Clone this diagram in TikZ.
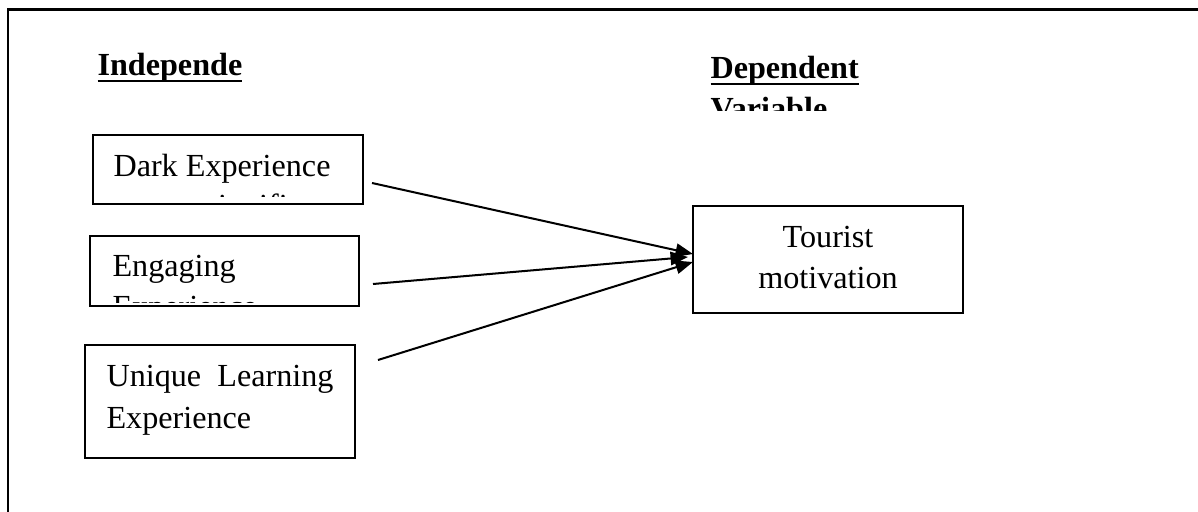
\documentclass[tikz,border=0pt]{standalone}
\usepackage{fontspec}
\setmainfont{Liberation Serif}
\usetikzlibrary{calc,arrows.meta}
\newdimen\pxu
\pxu=0.3731pt
\newcommand\headline[1]{\setbox0\hbox{\bfseries #1}\rlap{\rule[-2.6pt]{\wd0}{0.75pt}}\box0}
\tikzset{
  >={Triangle[length=6.5pt,width=5pt]},
  var box/.style={
    draw,
    line width=0.5pt,
    inner sep=0pt,
    outer sep=0pt,
    minimum width=270\pxu
  },
  var text/.style={
    anchor=base west,
    inner sep=0pt,
    font=\fontsize{12}{15}\selectfont
  },
  link/.style={->,line width=0.75pt}
}

\begin{document}
\begin{tikzpicture}[x=0.3731pt,y=-0.3731pt]
\useasboundingbox (0,0) rectangle (1198,512);
\clip (0,0) rectangle (1198,512);
\draw[line width=0.75pt] (8,9.5) rectangle (1230,540);
% headings
\node (indep) [var text] at (97,75) {\headline{Independe}};
\node (dep)   [var text] at (710,78) {\headline{Dependent}};
\begin{scope}
  \clip (700,86) rectangle (900,110);
  \node (depb) [var text] at (710,119) {\bfseries Variable};
\end{scope}
% boxes
\node (dark)    [var box,minimum height=69\pxu]  at (228,169.5) {};
\node (engage)  [var box,minimum height=70\pxu,minimum width=269\pxu] at (224.5,271) {};
\node (unique)  [var box,minimum height=113\pxu] at (220,401.5) {};
\node (tourist) [var box,minimum height=107\pxu] at (828,259.5) {};
% box texts
\node (darka) [var text] at (113,176) {Dark Experience};
\begin{scope}
  \clip (dark.north west) rectangle ($(dark.south east)+(0,-8)$);
  \node (darkb) [var text] at (205,216) {significance};
\end{scope}
\node (engagea) [var text] at (112,276) {Engaging};
\begin{scope}
  \clip (engage.north west) rectangle ($(engage.south east)+(0,-4)$);
  \node (engageb) [var text] at (112,317) {Experience};
\end{scope}
\node (uniquea) [var text] at (106,386) {\makebox[84.7pt][s]{Unique Learning}};
\node (uniqueb) [var text] at (106,428) {Experience};
\node (touristb) [var text,anchor=base] at (828,248) {Tourist};
\node (touristc) [var text,anchor=base] at (828,288) {motivation};
% links
\coordinate (o1) at (372,183);
\coordinate (o2) at (373,284);
\coordinate (o3) at (378,360);
\draw[link] (o1) -- ($(tourist.west)+(0,-5.5)$);
\draw[link] (o2) -- ($(tourist.west)+(-5,-2.5)$);
\draw[link] (o3) -- ($(tourist.west)+(0,2.5)$);
\end{tikzpicture}
\end{document}
